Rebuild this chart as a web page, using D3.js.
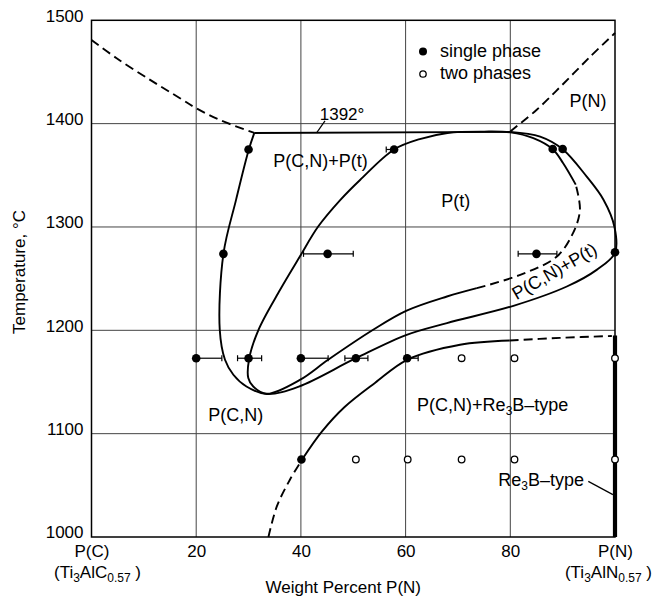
<!DOCTYPE html>
<html>
<head>
<meta charset="utf-8">
<script src="https://cdn.jsdelivr.net/npm/d3@7"></script>
<style>
  body { margin: 0; background: #fff; }
  svg text { font-family: "Liberation Sans", Arial, sans-serif; fill: #000; }
</style>
</head>
<body>
<svg width="654" height="600"></svg>
<script>
// axis ticks
const xTicks = [0, 20, 40, 60, 80, 100];
const xTickLabels = ["P(C)", "20", "40", "60", "80", "P(N)"];
const yTicks = [1000, 1100, 1200, 1300, 1400, 1500];

// measured points: [wt% P(N), temperature]
const singlePhase = [
  [30, 1375], [57.8, 1375], [88.1, 1375.5], [90, 1375.5],
  [25.2, 1274], [45.1, 1274], [85, 1274], [100, 1275.5],
  [20, 1173], [30, 1173], [40, 1173], [50.5, 1173], [60.3, 1173],
  [40.1, 1075]
];
const twoPhase = [
  [70.7, 1173], [80.8, 1173], [100, 1173],
  [50.5, 1075], [60.4, 1075], [70.7, 1075], [80.8, 1075], [100, 1075]
];
// [temperature, from, to]
const errorBars = [
  [1375, 56.3, 57.8],
  [1274, 40.5, 50.0], [1274, 81.5, 88.9],
  [1173, 20, 24.9], [1173, 27.9, 32.5], [1173, 40, 45.2],
  [1173, 48.4, 52.8], [1173, 60.3, 62.4]
];

// phase boundaries
const pcLiquidus = [[0, 1481], [4.8, 1463.3], [11.2, 1442.3], [16.9, 1424.6],
  [20, 1414.9], [24.5, 1403.6], [31.1, 1391]];
const pnLiquidus = [[80, 1392.5], [85, 1413.2], [90.1, 1438.4], [95.2, 1464.5], [100, 1487.7]];
const peritectic = [[31.1, 1391], [80, 1392]];
const outerLoop = [[31.1, 1391], [30, 1374], [27.6, 1326], [25.2, 1274], [24.5, 1200.5],
  [25.5, 1171.5], [27.1, 1157], [29.6, 1145.6], [33.5, 1138.3], [39.6, 1145.6],
  [50.5, 1173], [60.2, 1195.6], [67.9, 1207], [80.6, 1223.7], [90.8, 1242.4],
  [96.5, 1258.5], [100, 1275], [99.9, 1300], [97.8, 1326.4], [94.6, 1348.7],
  [90, 1375.2], [85.7, 1387.4], [80, 1392]];
const innerSolid = [[92.5, 1341], [90.1, 1361.7], [88.1, 1375.2], [84.4, 1385.9],
  [80, 1391.5], [75, 1392.3], [68, 1391], [62.7, 1385], [57.8, 1375], [51.3, 1345.5],
  [47.5, 1326], [43.3, 1300.4], [39.8, 1271.4], [36, 1239], [31.9, 1200.5],
  [30.1, 1172], [29.95, 1153.8], [30.9, 1145.6], [33.5, 1138.6], [39.8, 1152],
  [45.2, 1171.5], [53.8, 1200.5], [60.2, 1219], [67.9, 1232.7], [73.6, 1240.8]];
const innerDashed = [[73.6, 1240.8], [81.9, 1253.7], [88.9, 1271.4], [92, 1294.3],
  [93.3, 1316.5], [92.5, 1341]];
const re3bLowDashed = [[33.8, 1000], [35.4, 1029.6], [37.9, 1055.4], [40.2, 1074.7]];
const re3bSolid = [[40.2, 1074.7], [44, 1101.9], [48.4, 1126], [54.2, 1149.3],
  [60.3, 1171.5], [70.4, 1186], [79.9, 1190.1]];
const re3bHighDashed = [[79.9, 1190.1], [89.5, 1192.7], [99.4, 1194.5]];
const re3bPhase = [[100, 1195], [100, 1000]];

const svg = d3.select("svg");
const mLeft = 91.5, mRight = 615, mTop = 20.3, mBottom = 537;

const x = d3.scaleLinear().domain([0, 100]).range([mLeft, mRight]);
const y = d3.scaleLinear().domain([1000, 1500]).range([mBottom, mTop]);

// grid
svg.append("g").selectAll("line").data(xTicks.slice(1, -1)).join("line")
  .attr("x1", d => x(d)).attr("x2", d => x(d))
  .attr("y1", mTop).attr("y2", mBottom)
  .attr("stroke", "#444").attr("stroke-width", 1);
svg.append("g").selectAll("line").data(yTicks.slice(1, -1)).join("line")
  .attr("y1", d => y(d)).attr("y2", d => y(d))
  .attr("x1", mLeft).attr("x2", mRight)
  .attr("stroke", "#444").attr("stroke-width", 1);
svg.append("rect")
  .attr("x", mLeft).attr("y", mTop)
  .attr("width", mRight - mLeft).attr("height", mBottom - mTop)
  .attr("fill", "none").attr("stroke", "#000").attr("stroke-width", 1.5);

// axes
const xAxis = svg.append("g")
  .attr("transform", `translate(0,${mBottom})`)
  .call(d3.axisBottom(x).tickValues(xTicks).tickSize(0).tickPadding(8)
    .tickFormat((d, i) => xTickLabels[i]));
xAxis.select(".domain").remove();
xAxis.selectAll("text").attr("font-size", 17).attr("font-family", null);

const yAxis = svg.append("g")
  .attr("transform", `translate(${mLeft},0)`)
  .call(d3.axisLeft(y).tickValues(yTicks).tickSize(0).tickPadding(8)
    .tickFormat(d3.format("d")));
yAxis.select(".domain").remove();
yAxis.selectAll("text").attr("font-size", 17).attr("dy", "0.05em").attr("font-family", null);

// compound formulas under end ticks
function formula(px, anchor, parts) {
  const t = svg.append("text").attr("x", px).attr("y", 578)
    .attr("text-anchor", anchor).attr("font-size", 17);
  parts.forEach(p => {
    t.append("tspan").text(p[0])
      .attr("font-size", p[1] === 1 ? 12 : 17)
      .attr("dy", p[1] === 1 ? 4 : (p[1] === -1 ? -4 : 0));
  });
}
formula(x(0) + 6, "middle", [["(Ti", 0], ["3", 1], ["AlC", -1], ["0.57", 1], [" )", -1]]);
formula(652, "end", [["(Ti", 0], ["3", 1], ["AlN", -1], ["0.57", 1], [" )", -1]]);

svg.append("text")
  .attr("x", (mLeft + mRight) / 2 - 10).attr("y", 593)
  .attr("text-anchor", "middle").attr("font-size", 17)
  .text("Weight Percent P(N)");
svg.append("text")
  .attr("transform", `translate(25,272) rotate(-90)`)
  .attr("text-anchor", "middle").attr("font-size", 17)
  .text("Temperature, °C");

// boundaries
const line = d3.line().x(d => x(d[0])).y(d => y(d[1]))
  .curve(d3.curveCatmullRom.alpha(0.5));
const straight = d3.line().x(d => x(d[0])).y(d => y(d[1]));

function boundary(pts, dashed, gen = line) {
  svg.append("path")
    .attr("d", gen(pts))
    .attr("fill", "none")
    .attr("stroke", "#000")
    .attr("stroke-width", 1.9)
    .attr("stroke-dasharray", dashed ? "9,5" : null);
}
boundary(pcLiquidus, true);
boundary(pnLiquidus, true);
boundary(peritectic, false, straight);
boundary(outerLoop, false);
boundary(innerSolid, false);
boundary(innerDashed, true);
boundary(re3bLowDashed, true);
boundary(re3bSolid, false);
boundary(re3bHighDashed, true);

svg.append("path")
  .attr("d", straight(re3bPhase))
  .attr("stroke", "#000").attr("stroke-width", 4.2);

// error bars
const eb = svg.append("g").attr("stroke", "#000").attr("stroke-width", 1.2);
errorBars.forEach(([t, a, b]) => {
  eb.append("line").attr("x1", x(a)).attr("x2", x(b)).attr("y1", y(t)).attr("y2", y(t));
  [a, b].forEach(v => eb.append("line")
    .attr("x1", x(v)).attr("x2", x(v)).attr("y1", y(t) - 3).attr("y2", y(t) + 3));
});

// points
svg.append("g").selectAll("circle").data(singlePhase).join("circle")
  .attr("cx", d => x(d[0])).attr("cy", d => y(d[1])).attr("r", 4.3)
  .attr("fill", "#000");
svg.append("g").selectAll("circle").data(twoPhase).join("circle")
  .attr("cx", d => x(d[0])).attr("cy", d => y(d[1])).attr("r", 3.3)
  .attr("fill", "#fff").attr("stroke", "#000").attr("stroke-width", 1.3);

// legend
svg.append("circle").attr("cx", 423).attr("cy", 51.5).attr("r", 4).attr("fill", "#000");
svg.append("circle").attr("cx", 423).attr("cy", 74).attr("r", 3.2)
  .attr("fill", "#fff").attr("stroke", "#000").attr("stroke-width", 1.3);
svg.append("text").attr("x", 440).attr("y", 57).attr("font-size", 18).text("single phase");
svg.append("text").attr("x", 440).attr("y", 79).attr("font-size", 18).text("two phases");

// region labels
function label(tx, ty, str, size = 18) {
  return svg.append("text").attr("x", x(tx)).attr("y", y(ty))
    .attr("font-size", size).text(str);
}
label(34.7, 1358.4, "P(C,N)+P(t)");
label(66.8, 1319.7, "P(t)");
label(91.3, 1416.4, "P(N)");
label(22.3, 1111.8, "P(C,N)");
label(43.6, 1403.6, "1392°", 17);
svg.append("text")
  .attr("transform", `translate(${x(89)},${y(1252)}) rotate(-30)`)
  .attr("text-anchor", "middle").attr("font-size", 18)
  .text("P(C,N)+P(t)");

const re3b = label(62.2, 1121.5, "P(C,N)+Re");
re3b.append("tspan").attr("font-size", 12).attr("dy", 4).text("3");
re3b.append("tspan").attr("dy", -4).text("B–type");

const re3bOnly = label(77.7, 1049, "Re");
re3bOnly.append("tspan").attr("font-size", 12).attr("dy", 4).text("3");
re3bOnly.append("tspan").attr("dy", -4).text("B–type");

// leader lines
svg.append("line")
  .attr("x1", x(43)).attr("y1", y(1391)).attr("x2", x(44.6)).attr("y2", y(1402.6))
  .attr("stroke", "#000").attr("stroke-width", 1.2);
svg.append("line")
  .attr("x1", x(94.9)).attr("y1", y(1053.8)).attr("x2", x(99.6)).attr("y2", y(1041))
  .attr("stroke", "#000").attr("stroke-width", 1.2);
</script>
</body>
</html>
